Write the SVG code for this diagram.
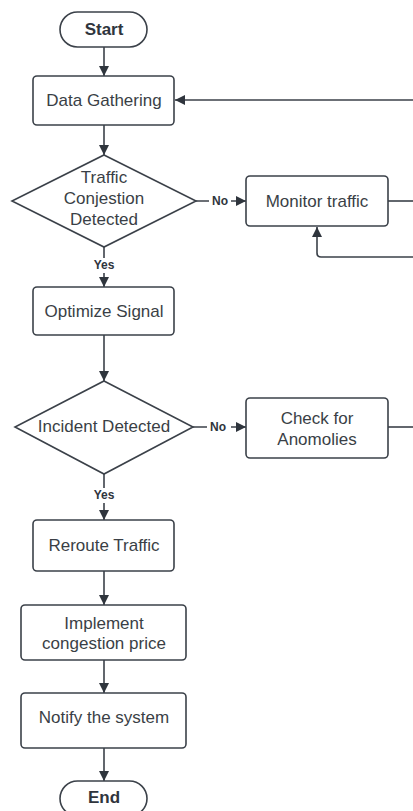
<svg xmlns="http://www.w3.org/2000/svg" width="413" height="811" viewBox="0 0 413 811">
<style>
.box{fill:#fff;stroke:#3b4149;stroke-width:1.6}
.t{font-family:"Liberation Sans",Arial,sans-serif;font-size:17px;fill:#3a3f46;text-anchor:middle;dominant-baseline:central}
.b{font-family:"Liberation Sans",Arial,sans-serif;font-weight:bold;font-size:17px;fill:#2f353d;text-anchor:middle;dominant-baseline:central}
.lbl{font-family:"Liberation Sans",Arial,sans-serif;font-weight:bold;font-size:12px;fill:#2f353d;text-anchor:middle;dominant-baseline:central}
.c{fill:none;stroke:#3b4149;stroke-width:1.6}
</style>
<defs>
<marker id="ah" viewBox="0 0 10 10" refX="10" refY="5" markerWidth="10" markerHeight="10" markerUnits="userSpaceOnUse" orient="auto">
<path d="M0,0 L10,5 L0,10 z" fill="#2f353d"/>
</marker>
</defs>
<rect width="413" height="811" fill="#fff"/>
<g id="connectors">
<path class="c" d="M104,47 V76" marker-end="url(#ah)"/>
<path class="c" d="M104,125 V155" marker-end="url(#ah)"/>
<path class="c" d="M413,100 H175" marker-end="url(#ah)"/>
<path class="c" d="M196,201 H246" marker-end="url(#ah)"/>
<rect x="209" y="193" width="22" height="16" fill="#fff"/>
<text class="lbl" x="220" y="201">No</text>
<path class="c" d="M388,201 H413"/>
<path class="c" d="M413,257 H321 Q317,257 317,253 V227" marker-end="url(#ah)"/>
<path class="c" d="M104,247 V287" marker-end="url(#ah)"/>
<rect x="90" y="258" width="28" height="15" fill="#fff"/>
<text class="lbl" x="104" y="265">Yes</text>
<path class="c" d="M104,335 V381" marker-end="url(#ah)"/>
<path class="c" d="M193,427 H246" marker-end="url(#ah)"/>
<rect x="207" y="419" width="24" height="16" fill="#fff"/>
<text class="lbl" x="218" y="427">No</text>
<path class="c" d="M388,427 H413"/>
<path class="c" d="M104,474 V520" marker-end="url(#ah)"/>
<rect x="90" y="488" width="28" height="15" fill="#fff"/>
<text class="lbl" x="104" y="495">Yes</text>
<path class="c" d="M104,571 V605" marker-end="url(#ah)"/>
<path class="c" d="M104,660 V693" marker-end="url(#ah)"/>
<path class="c" d="M104,748 V781" marker-end="url(#ah)"/>
</g>
<g id="start">
<rect class="box" x="60" y="12" width="87" height="35" rx="17.5"/>
<text class="b" x="104" y="29">Start</text>
</g>
<g id="data-gathering">
<rect class="box" x="33" y="76" width="141" height="49" rx="4"/>
<text class="t" x="104" y="100">Data Gathering</text>
</g>
<g id="traffic-congestion">
<polygon class="box" points="104,155 196,201 104,247 12,201"/>
<text class="t" x="104" y="177">Traffic</text>
<text class="t" x="104" y="198">Conjestion</text>
<text class="t" x="104" y="219">Detected</text>
</g>
<g id="monitor-traffic">
<rect class="box" x="246" y="176" width="142" height="50" rx="4"/>
<text class="t" x="317" y="201">Monitor traffic</text>
</g>
<g id="optimize-signal">
<rect class="box" x="33" y="287" width="141" height="48" rx="4"/>
<text class="t" x="104" y="311">Optimize Signal</text>
</g>
<g id="incident-detected">
<polygon class="box" points="104,381 193,427 104,474 15,427"/>
<text class="t" x="104" y="426">Incident Detected</text>
</g>
<g id="check-anomolies">
<rect class="box" x="246" y="398" width="142" height="60" rx="4"/>
<text class="t" x="317" y="418">Check for</text>
<text class="t" x="317" y="439">Anomolies</text>
</g>
<g id="reroute-traffic">
<rect class="box" x="33" y="520" width="141" height="51" rx="4"/>
<text class="t" x="104" y="545">Reroute Traffic</text>
</g>
<g id="implement-price">
<rect class="box" x="21" y="605" width="165" height="55" rx="4"/>
<text class="t" x="104" y="623">Implement</text>
<text class="t" x="104" y="643">congestion price</text>
</g>
<g id="notify-system">
<rect class="box" x="21" y="693" width="165" height="55" rx="4"/>
<text class="t" x="104" y="717">Notify the system</text>
</g>
<g id="end">
<rect class="box" x="60" y="781" width="87" height="35" rx="17.5"/>
<text class="b" x="104" y="797">End</text>
</g>
</svg>
